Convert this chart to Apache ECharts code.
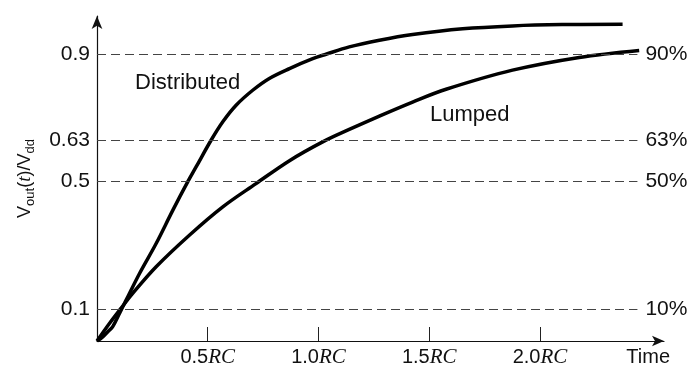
<!DOCTYPE html>
<html>
<head>
<meta charset="utf-8">
<script src="https://cdn.jsdelivr.net/npm/echarts@6/dist/echarts.min.js"></script>
<style>
  html, body { margin: 0; padding: 0; background: #fff; }
  #chart { width: 691px; height: 368px; }
</style>
</head>
<body>
<div id="chart"></div>
<script>
// values (t in units of RC, v = Vout/Vdd)
var distT = [0, 0.026, 0.05, 0.071, 0.102, 0.132, 0.192, 0.267, 0.342, 0.41, 0.448, 0.515, 0.568, 0.628, 0.703, 0.778, 0.869, 0.974, 1.034, 1.139, 1.275, 1.425, 1.651, 1.876, 2.10, 2.373]
var distV = [0, 0.013, 0.03, 0.045, 0.087, 0.129, 0.212, 0.306, 0.410, 0.500, 0.547, 0.630, 0.688, 0.740, 0.787, 0.824, 0.855, 0.886, 0.900, 0.923, 0.944, 0.962, 0.980, 0.989, 0.993, 0.994]
var lumpT = [0, 0.056, 0.109, 0.162, 0.267, 0.417, 0.568, 0.718, 0.869, 1.019, 1.139, 1.275, 1.425, 1.576, 1.876, 2.177, 2.448]
var lumpV = [0, 0.055, 0.103, 0.150, 0.233, 0.332, 0.421, 0.494, 0.566, 0.625, 0.664, 0.706, 0.750, 0.790, 0.850, 0.890, 0.912]
var levels = [0.1, 0.5, 0.63, 0.9]
var levelLabels = ['10%', '50%', '63%', '90%']
var timeTicks = [0.5, 1.0, 1.5, 2.0]
var levelEnd = 2.44

function pairs (xs, ys) {
  return xs.map(function (x, i) { return [x, ys[i]] })
}

var chart = echarts.init(document.getElementById('chart'))
var sans = 'Liberation Sans, Arial, sans-serif'
var serif = 'Liberation Serif, Times New Roman, serif'

var refLines = levels.map(function (v, i) {
  return [
    { coord: [0, v], label: { formatter: levelLabels[i] } },
    { coord: [levelEnd, v] }
  ]
})

var option = {
  animation: false,
  grid: { left: 97, right: 27, top: 16, bottom: 27 },
  xAxis: {
    type: 'value',
    min: 0,
    max: 2.56,
    name: 'Time',
    nameLocation: 'end',
    nameGap: 6,
    nameTextStyle: { fontFamily: sans, fontSize: 20, color: '#111', align: 'right', verticalAlign: 'top', padding: [6, 0, 0, 0] },
    axisLine: { lineStyle: { color: '#111', width: 1.2 }, symbol: ['none', 'arrow'], symbolSize: [8, 12] },
    axisTick: { inside: true, length: 14, lineStyle: { color: '#222', width: 1 }, customValues: timeTicks },
    axisLabel: {
      customValues: timeTicks,
      margin: 6,
      formatter: function (v) { return '{n|' + v.toFixed(1) + '}{i|RC}' },
      rich: {
        n: { fontFamily: sans, fontSize: 20, color: '#111' },
        i: { fontFamily: serif, fontStyle: 'italic', fontSize: 21, color: '#111' }
      }
    },
    splitLine: { show: false }
  },
  yAxis: {
    type: 'value',
    min: 0,
    max: 1.02,
    name: '{v|V}{s|out}{m|(}{t|t}{m|)/V}{s|dd}',
    nameLocation: 'middle',
    nameRotate: 90,
    nameGap: 60,
    nameTextStyle: {
      rich: {
        v: { fontFamily: sans, fontSize: 18, color: '#111' },
        m: { fontFamily: sans, fontSize: 18, color: '#111' },
        t: { fontFamily: serif, fontStyle: 'italic', fontSize: 19, color: '#111' },
        s: { fontFamily: sans, fontSize: 13, color: '#111', padding: [11, 0, 0, 0] }
      }
    },
    axisLine: { show: true, lineStyle: { color: '#111', width: 1.2 }, symbol: ['none', 'arrow'], symbolSize: [8, 13] },
    axisTick: { show: false },
    axisLabel: {
      customValues: levels,
      margin: 7,
      fontFamily: sans,
      fontSize: 21,
      color: '#111',
      formatter: function (v) { return String(v) }
    },
    splitLine: { show: false }
  },
  series: [
    {
      name: 'Distributed',
      type: 'line',
      data: pairs(distT, distV),
      smooth: 0.35,
      symbol: 'none',
      lineStyle: { color: '#000', width: 3.5 },
      markLine: {
        silent: true,
        symbol: 'none',
        lineStyle: { color: '#444', width: 1, type: [9, 5] },
        label: { position: 'end', distance: 8, fontFamily: sans, fontSize: 21, color: '#111' },
        data: refLines
      },
      z: 3
    },
    {
      name: 'Lumped',
      type: 'line',
      data: pairs(lumpT, lumpV),
      smooth: 0.35,
      symbol: 'none',
      lineStyle: { color: '#000', width: 3.5 },
      z: 3
    }
  ],
  graphic: [
    { type: 'text', x: 135, y: 83, style: { text: 'Distributed', font: '22px ' + sans, fill: '#111', verticalAlign: 'middle' } },
    { type: 'text', x: 430, y: 115, style: { text: 'Lumped', font: '22px ' + sans, fill: '#111', verticalAlign: 'middle' } }
  ]
}
chart.setOption(option)
</script>
</body>
</html>
